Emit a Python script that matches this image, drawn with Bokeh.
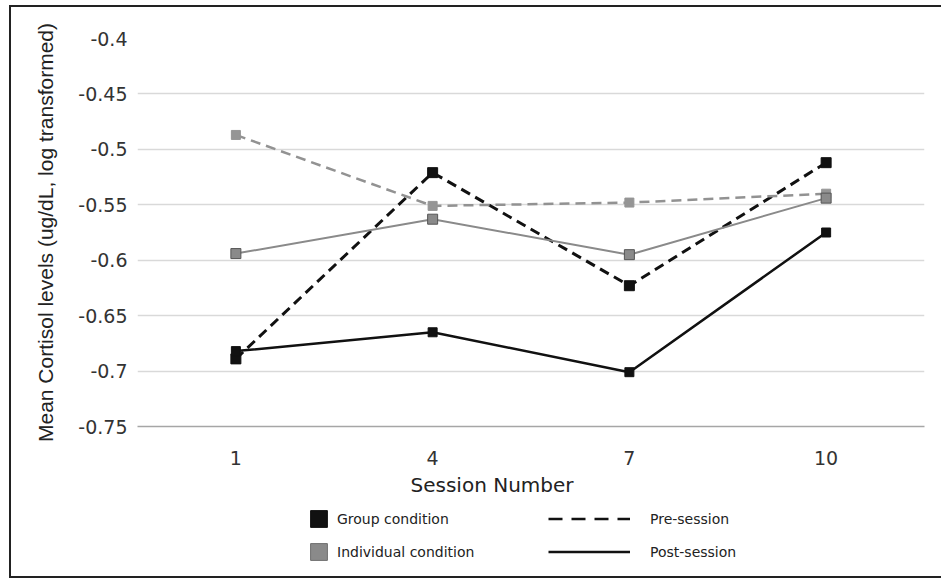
from bokeh.plotting import figure
from bokeh.layouts import column
from bokeh.models import FactorRange, Range1d, FixedTicker, Legend, LegendItem, Title
from bokeh.embed import file_html
from bokeh.resources import INLINE

# ---- data ----
sessions = ["1", "4", "7", "10"]
group_pre = [-0.689, -0.521, -0.623, -0.512]
group_post = [-0.682, -0.665, -0.701, -0.575]
indiv_pre = [-0.487, -0.551, -0.548, -0.540]
indiv_post = [-0.594, -0.563, -0.595, -0.544]
y_ticks = [-0.75, -0.7, -0.65, -0.6, -0.55, -0.5, -0.45, -0.4]
y_tick_labels = ["-0.75", "-0.7", "-0.65", "-0.6", "-0.55", "-0.5", "-0.45", "-0.4"]

W = 932
H_MAIN = 500
H_LEG = 69

p = figure(width=W, height=H_MAIN, output_backend="svg", toolbar_location=None,
           x_range=FactorRange(*sessions, range_padding=0),
           y_range=Range1d(-0.75, -0.4),
           min_border_left=126, min_border_right=19, min_border_top=31, min_border_bottom=81)
p.outline_line_color = None
p.background_fill_color = "white"
p.border_fill_color = "white"

BLACK = "#111111"
GRAY = "#8a8a8a"

# series
p.line(sessions, group_pre, line_color=BLACK, line_width=3, line_dash="10 6")
p.line(sessions, group_post, line_color=BLACK, line_width=2.5)
p.line(sessions, indiv_pre, line_color="#929292", line_width=2.5, line_dash="10 6")
p.line(sessions, indiv_post, line_color=GRAY, line_width=2)
p.scatter(sessions, indiv_pre, marker="square", size=9, fill_color="#959595", line_color="#959595")
p.scatter(sessions, indiv_post, marker="square", size=10, fill_color=GRAY, line_color="#555555", line_width=1)
p.scatter(sessions, group_pre, marker="square", size=10, fill_color=BLACK, line_color=BLACK)
p.scatter(sessions, group_post, marker="square", size=9, fill_color=BLACK, line_color=BLACK)

# axes
p.xaxis.axis_line_color = "#a6a6a6"
p.xaxis.axis_line_width = 1.5
p.xaxis.major_tick_line_color = None
p.xaxis.minor_tick_line_color = None
p.xaxis.major_label_standoff = 18
p.xaxis.major_label_text_font = "DejaVu Sans"
p.xaxis.major_label_text_font_size = "19px"
p.xaxis.major_label_text_color = "#333333"

# x-axis title (sits a little left of the frame centre, as in the original)
p.add_layout(Title(text="Session Number", align="left", offset=273, standoff=6,
                   text_font="DejaVu Sans", text_font_size="20px",
                   text_font_style="normal", text_color="#222222"), "below")

p.yaxis.ticker = FixedTicker(ticks=y_ticks)
p.yaxis.major_label_overrides = {t: l for t, l in zip(y_ticks, y_tick_labels)}
p.yaxis.axis_line_color = None
p.yaxis.major_tick_line_color = None
p.yaxis.minor_tick_line_color = None
p.yaxis.major_label_standoff = 4
p.yaxis.major_label_text_font = "DejaVu Sans"
p.yaxis.major_label_text_font_size = "19px"
p.yaxis.major_label_text_color = "#333333"
p.yaxis.axis_label = "Mean Cortisol levels (ug/dL, log transformed)"
p.yaxis.axis_label_text_font = "Liberation Sans"
p.yaxis.axis_label_text_font_size = "21px"
p.yaxis.axis_label_text_font_style = "normal"
p.yaxis.axis_label_text_color = "#222222"
p.yaxis.axis_label_standoff = 18

p.xgrid.grid_line_color = None
p.ygrid.ticker = FixedTicker(ticks=y_ticks)
p.ygrid.grid_line_color = "#d9d9d9"
p.ygrid.grid_line_width = 1.5

# ---- legend strip ----
q = figure(width=W, height=H_LEG, output_backend="svg", toolbar_location=None,
           x_range=Range1d(0, 1), y_range=Range1d(0, 1),
           x_axis_location=None, y_axis_location=None, min_border=0)
q.outline_line_color = None
q.grid.visible = False
q.background_fill_color = "white"
q.border_fill_color = "white"

# proxy glyphs placed outside the visible range (only their legend swatches show)
r_g = q.quad(left=[-9], right=[-8], top=[-8], bottom=[-9], fill_color=BLACK, line_color=BLACK)
r_i = q.quad(left=[-9], right=[-8], top=[-8], bottom=[-9], fill_color=GRAY, line_color="#6e6e6e")
r_pre = q.line(x=[-9, -8], y=[-9, -9], line_color=BLACK, line_width=2.5, line_dash="14 9")
r_post = q.line(x=[-9, -8], y=[-9, -9], line_color=BLACK, line_width=2.5)

common = dict(glyph_height=21, spacing=12, padding=0, margin=0,
              border_line_color=None, background_fill_alpha=0,
              label_text_font="DejaVu Sans", label_text_font_size="14px",
              label_text_color="#222222", label_height=21)
leg1 = Legend(items=[LegendItem(label="Group condition", renderers=[r_g]),
                     LegendItem(label="Individual condition", renderers=[r_i])],
              location=(171, 14), glyph_width=21, label_standoff=8, **common)
leg2 = Legend(items=[LegendItem(label="Pre-session", renderers=[r_pre]),
                     LegendItem(label="Post-session", renderers=[r_post])],
              location=(411, 14), glyph_width=82, label_standoff=20, **common)
q.add_layout(leg1)
q.add_layout(leg2)

layout = column(p, q, spacing=0,
                styles={"margin-left": "9px", "margin-top": "5px",
                        "border-left": "2px solid #222222",
                        "border-top": "2px solid #222222",
                        "border-bottom": "2px solid #222222"})

open("out.html", "w").write(file_html(layout, INLINE))
